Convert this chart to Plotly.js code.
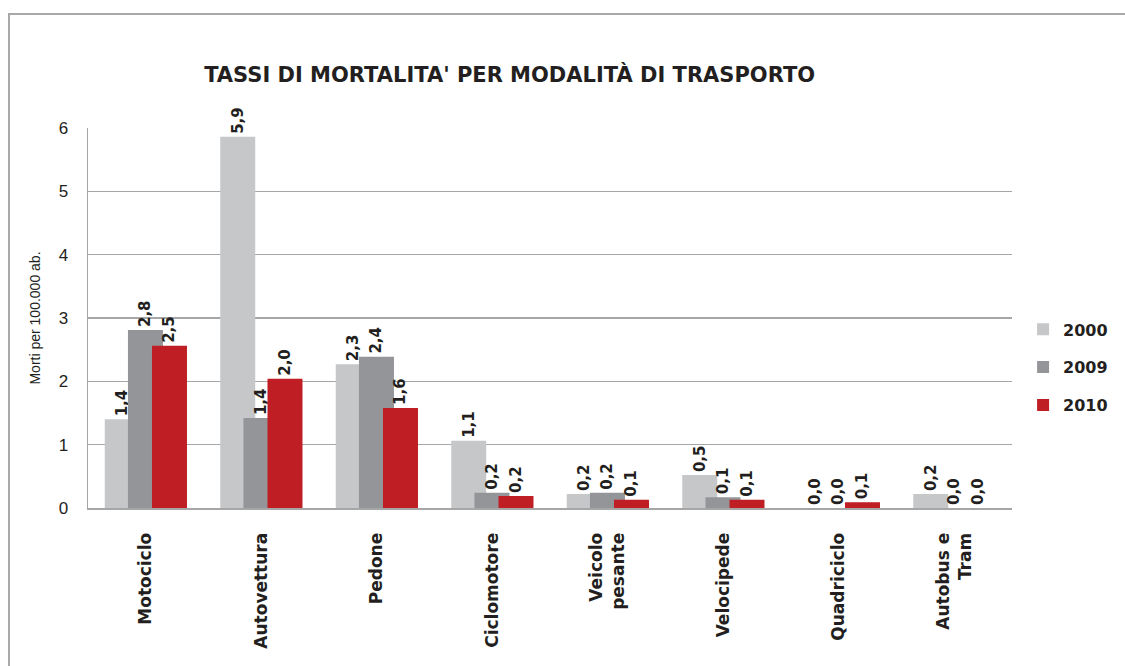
<!DOCTYPE html>
<html>
<head>
<meta charset="utf-8">
<script src="https://cdn.plot.ly/plotly-3.0.1.min.js"></script>
<style>
  html, body { margin: 0; padding: 0; overflow: hidden; background: #fff; }
  #chart { width: 1125px; height: 666px; }
  #frame { position: absolute; left: 8px; top: 13px; width: 1200px; height: 700px;
           border: 2px solid #a9a9a9; pointer-events: none; }
</style>
</head>
<body>
<div id="chart"></div>
<div id="frame"></div>
<script>
// categorie e serie
const categorie = ['Motociclo', 'Autovettura', 'Pedone', 'Ciclomotore', 'Veicolo<br>pesante',
                   'Velocipede', 'Quadriciclo', 'Autobus e<br>Tram'];
const anni = ['2000', '2009', '2010'];
const tassi2000 = [1.4, 5.86, 2.27, 1.06, 0.22, 0.52, 0.0, 0.22];
const tassi2009 = [2.81, 1.42, 2.39, 0.24, 0.24, 0.17, 0.0, 0.0];
const tassi2010 = [2.56, 2.04, 1.58, 0.19, 0.13, 0.13, 0.09, 0.0];
const etichette2000 = ['1,4', '5,9', '2,3', '1,1', '0,2', '0,5', '0,0', '0,2'];
const etichette2009 = ['2,8', '1,4', '2,4', '0,2', '0,2', '0,1', '0,0', '0,0'];
const etichette2010 = ['2,5', '2,0', '1,6', '0,2', '0,1', '0,1', '0,1', '0,0'];
const colori = ['#c6c7c9', '#939598', '#be1e24'];

const font = '"DejaVu Sans", Arial, sans-serif';
const narrow = '"Liberation Sans Narrow", "Arial Narrow", "Liberation Sans", Arial, sans-serif';
const offsets = [-0.355, -0.154, 0.054];

function serie(i, y, testo) {
    return {
        type: 'bar', name: anni[i], legendgroup: anni[i], x: categorie, y: y,
        width: 0.303, offset: offsets[i],
        marker: { color: colori[i] },
        text: testo, textposition: 'outside', textangle: -90,
        constraintext: 'none', cliponaxis: false,
        textfont: { family: font, size: 15, color: '#231f20', weight: 'bold' },
        hoverinfo: 'x+y'
    };
}

const traces = [
    serie(0, tassi2000, etichette2000),
    serie(1, tassi2009, etichette2009),
    serie(2, tassi2010, etichette2010)
];

const layout = {
    width: 1125, height: 666,
    margin: { l: 88, r: 113, t: 128, b: 158 },
    paper_bgcolor: '#fff', plot_bgcolor: '#fff',
    barmode: 'overlay',
    title: {
        text: "TASSI DI MORTALITA' PER MODALITÀ DI TRASPORTO",
        x: 0.453, xanchor: 'center', y: 0.888, yanchor: 'middle',
        font: { family: font, size: 21, color: '#231f20', weight: 'bold' }
    },
    xaxis: {
        showgrid: false, tickangle: -90, ticklabelstandoff: 16,
        showline: true, linecolor: '#a6a6a6', linewidth: 2,
        tickfont: { family: font, size: 17, color: '#231f20', weight: 'bold' }
    },
    yaxis: {
        range: [0, 6], dtick: 1, showgrid: true, gridcolor: '#a6a6a6', gridwidth: 1.5,
        showline: true, linecolor: '#a6a6a6', linewidth: 1.5, zeroline: false,
        ticklabelstandoff: 15,
        tickfont: { family: narrow, size: 17, color: '#231f20' },
        title: { text: 'Morti per 100.000 ab.', standoff: 14,
                 font: { family: narrow, size: 14, color: '#231f20' } }
    },
    legend: {
        x: 1.012, xanchor: 'left', y: 0.37, yanchor: 'middle',
        tracegroupgap: 14, itemwidth: 30,
        font: { family: font, size: 16, color: '#231f20', weight: 'bold' }
    },
    showlegend: true
};

Plotly.newPlot('chart', traces, layout, { displayModeBar: false, staticPlot: true });
</script>
</body>
</html>
